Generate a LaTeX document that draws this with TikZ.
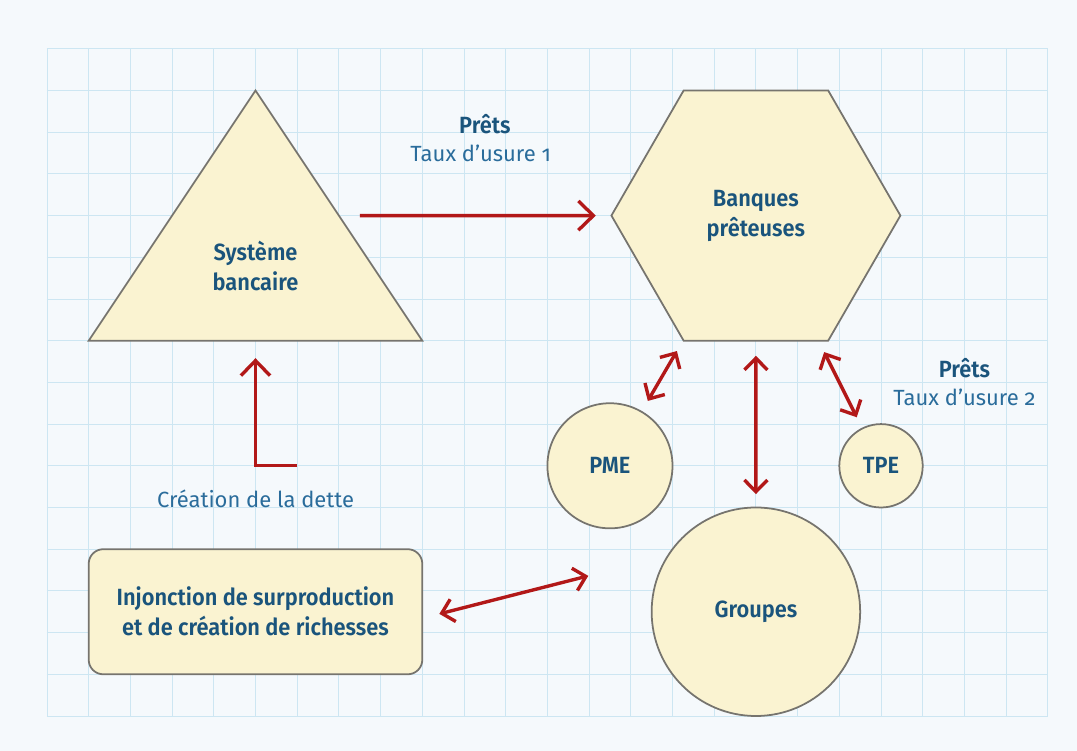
\documentclass[tikz,border=0pt]{standalone}
\usepackage{fontspec}
\setmainfont[BoldFont={Fira Sans SemiBold}, BoldFeatures={FakeStretch=0.93}, Numbers=OldStyle]{Fira Sans}
\usetikzlibrary{shapes.geometric,arrows.meta}

\definecolor{fond}{RGB}{245,249,252}
\definecolor{grille}{RGB}{205,230,242}
\definecolor{creme}{RGB}{250,243,209}
\definecolor{bord}{RGB}{118,116,110}
\definecolor{rouge}{RGB}{178,24,24}
\definecolor{bleufonce}{RGB}{26,84,124}
\definecolor{bleu}{RGB}{42,108,155}

\begin{document}
\begin{tikzpicture}
\tikzset{forme/.style={draw=bord, fill=creme, line width=1.2pt},
  titre/.style={font=\fontsize{16}{20.5}\selectfont\bfseries, text=bleufonce, align=center},
  legende/.style={font=\fontsize{15}{20.5}\selectfont, text=bleu, align=center},
  fleche/.style={draw=rouge, line width=2.3pt, -{Straight Barb[length=3.6mm, width=7mm]}},
  dfleche/.style={draw=rouge, line width=2.3pt, {Straight Barb[length=2.8mm, width=5.5mm]}-{Straight Barb[length=2.8mm, width=5.5mm]}}}
\useasboundingbox[fill=fond] (-1.127, -0.839) rectangle (24.70, 17.17);
\draw[grille, line width=0.6pt] (0, 0) grid (24, 16);
% triangle
\draw[forme] (1, 9) -- (9, 9) -- (5, 15) -- cycle;
\node[titre] (systeme) at (5, 10.8) {Système\\bancaire};
\node[forme, regular polygon, regular polygon sides=6, minimum size=6.93cm, inner sep=0pt, titre] (banques) at (17, 12) {Banques\\prêteuses};
\node[forme, circle, minimum size=3cm, inner sep=0pt, titre] (pme) at (13.5, 6) {PME};
\node[forme, circle, minimum size=2cm, inner sep=0pt, titre] (tpe) at (20, 6) {TPE};
\node[forme, circle, minimum size=5cm, inner sep=0pt, titre] (groupes) at (17, 2.5) {Groupes};
\node[forme, rounded corners=0.35cm, minimum width=8cm, minimum height=3cm, titre] (injonction) at (5, 2.5) {Injonction de surproduction\\et de création de richesses};
\node[titre] (prets1) at (10.5, 14.2) {Prêts};
\node[legende] (taux1) at (10.4, 13.5) {Taux d’usure 1};
\node[titre] (prets2) at (22, 8.35) {Prêts};
\node[legende] (taux2) at (22, 7.65) {Taux d’usure 2};
\node[legende] (dette) at (5, 5.2) {Création de la dette};
\coordinate (depart) at (7.5, 12);
\coordinate (base) at (5, 9);
\coordinate (coude) at (6, 6);
\coordinate (libre) at (12.98, 3.36);
\draw[fleche, shorten >=0.35cm] (depart) -- (banques.west);
\draw[fleche, shorten >=0.42cm] (coude) -| (base);
\draw[dfleche, shorten <=0.28cm, shorten >=0.28cm] (pme) -- (banques);
\draw[dfleche, shorten <=0.28cm, shorten >=0.28cm] (tpe) -- (banques);
\draw[dfleche, shorten <=0.3cm, shorten >=0.34cm] (groupes) -- (banques);
\draw[dfleche, shorten <=0.4cm] ([yshift=-1.5mm]injonction.east) -- (libre);
\end{tikzpicture}
\end{document}
